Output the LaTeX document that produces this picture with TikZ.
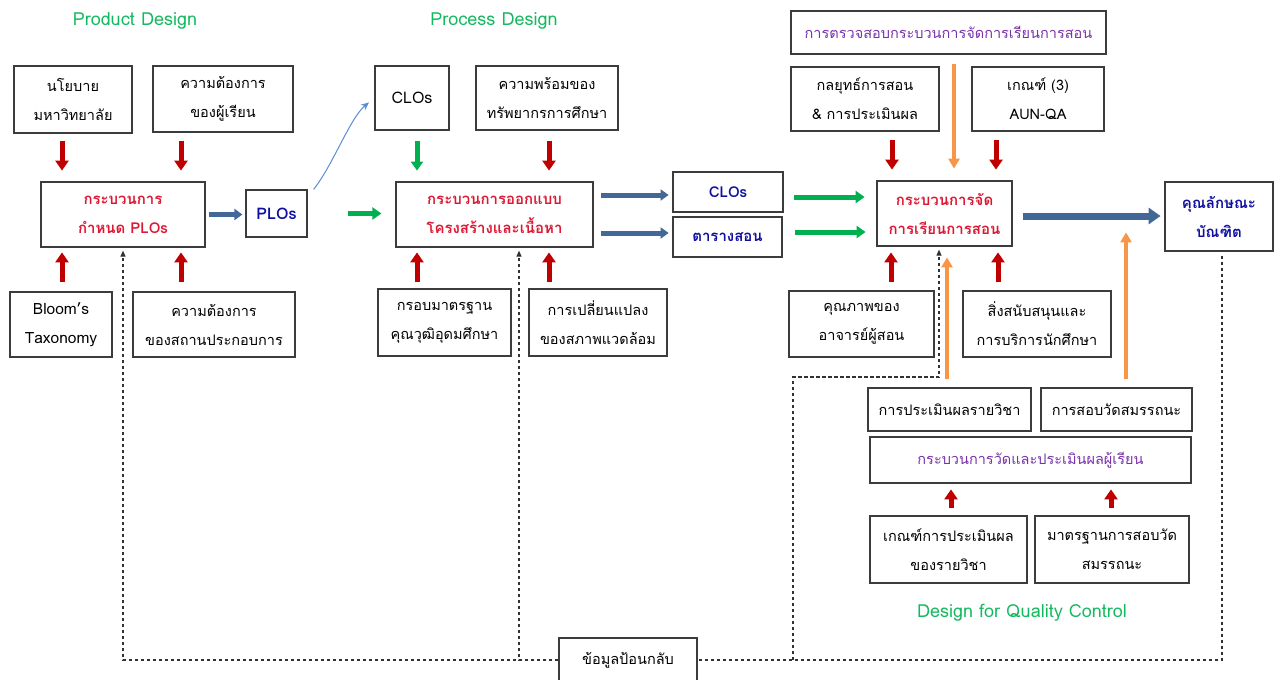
\documentclass[tikz,border=0pt]{standalone}
\usepackage{fontspec}
\setmainfont{Loma}[Script=Thai]
\usetikzlibrary{arrows.meta,calc}
\definecolor{boxgray}{RGB}{60,60,60}
\definecolor{hgreen}{RGB}{20,185,95}
\definecolor{txtred}{RGB}{222,24,52}
\definecolor{navy}{RGB}{16,16,160}
\definecolor{purp}{RGB}{120,50,170}
\definecolor{arred}{RGB}{192,0,0}
\definecolor{arblue}{RGB}{66,104,152}
\definecolor{argreen}{RGB}{0,176,80}
\definecolor{arorange}{RGB}{247,150,70}
\definecolor{thinblue}{RGB}{90,140,210}
\definecolor{dashgray}{RGB}{50,50,50}
\begin{document}
\begin{tikzpicture}[x=1pt,y=-1pt,
  bx/.style 2 args={draw=boxgray, line width=1.2pt, inner sep=0pt, align=center,
    minimum width=#1pt, minimum height=#2pt, font=\fontsize{14.5}{29}\selectfont},
  redt/.style={text=txtred, font=\fontsize{15}{29}\selectfont\bfseries},
  navyt/.style={text=navy, font=\fontsize{15}{29}\selectfont\bfseries},
  purpt/.style={text=purp},
  latt/.style={font=\fontsize{15.5}{29}\selectfont},
  hd/.style={text=hgreen, font=\fontsize{18}{20}\selectfont},
  ra/.style={draw=arred, line width=5pt, -{Triangle[length=10pt,width=13pt]}},
  ga/.style={draw=argreen, line width=5pt, -{Triangle[length=9pt,width=12pt]}},
  ba/.style={draw=arblue, line width=5pt, -{Triangle[length=8pt,width=11pt]}},
  bigba/.style={draw=arblue, line width=7pt, -{Triangle[length=12pt,width=16pt]}},
  oa/.style={draw=arorange, line width=4pt, -{Triangle[length=10pt,width=11pt]}},
  fbline/.style={draw=dashgray, line width=1.1pt, dash pattern=on 3.5pt off 2.5pt},
  fbarrow/.style={fbline, -{Triangle[length=6pt,width=5pt]}, shorten >=3pt},
]
\useasboundingbox (0,0) rectangle (1280,680);

% headings
\node[hd] (h1) at (135,21) {Product Design};
\node[hd] (h2) at (494,21) {Process Design};
\node[hd] (h3) at (1022,613) {Design for Quality Control};

% product design
\node[bx={118}{67}] (nyb) at (73,99.5) {นโยบาย\\มหาวิทยาลัย};
\node[bx={140}{66}] (need) at (223,99) {ความต้องการ\\ของผู้เรียน};
\node[bx={164}{65}, redt] (plop) at (123,214.5) {กระบวนการ\\กำหนด PLOs};
\node[bx={61}{47}, navyt, font=\fontsize{16}{20}\selectfont\bfseries] (plos) at (276.5,213.5) {PLOs};
\node[bx={102}{65}, latt] (bloom) at (61,324.5) {Bloom’s\\Taxonomy};
\node[bx={162}{65}] (ent) at (214,324.5) {ความต้องการ\\ของสถานประกอบการ};

% process design
\node[bx={74}{64}, font=\fontsize{16}{20}\selectfont] (clos1) at (412,98) {CLOs};
\node[bx={142}{64}] (res) at (547,98) {ความพร้อมของ\\ทรัพยากรการศึกษา};
\node[bx={197}{65}, redt] (des) at (494.5,214.5) {กระบวนการออกแบบ\\โครงสร้างและเนื้อหา};
\node[bx={133}{67}] (tqf) at (444.5,322.5) {กรอบมาตรฐาน\\คุณวุฒิอุดมศึกษา};
\node[bx={138}{67}] (env) at (598,322.5) {การเปลี่ยนแปลง\\ของสภาพแวดล้อม};
\node[bx={110}{40}, navyt, font=\fontsize{15}{20}\selectfont\bfseries] (clos2) at (728,192) {CLOs};
\node[bx={109}{40}, navyt] (tt) at (727.5,237) {ตารางสอน};

% teaching and quality
\node[bx={315}{43}, purpt] (audit) at (948.5,32.5) {การตรวจสอบกระบวนการจัดการเรียนการสอน};
\node[bx={148}{64}] (strat) at (865,99) {กลยุทธ์การสอน\\\& การประเมินผล};
\node[bx={132}{64}] (aun) at (1038,99) {เกณฑ์ (3)\\AUN-QA};
\node[bx={135}{65}, redt] (proc) at (944.5,213.5) {กระบวนการจัด\\การเรียนการสอน};
\node[bx={108}{69}, navyt] (grad) at (1219,216.5) {คุณลักษณะ\\บัณฑิต};
\node[bx={145}{66}] (qual) at (861.5,324) {คุณภาพของ\\อาจารย์ผู้สอน};
\node[bx={148}{66}] (supp) at (1037,324) {สิ่งสนับสนุนและ\\การบริการนักศึกษา};
\node[bx={163}{43}] (cev) at (949.5,409.5) {การประเมินผลรายวิชา};
\node[bx={151}{43}] (comp) at (1116.5,409.5) {การสอบวัดสมรรถนะ};
\node[bx={321}{46}, purpt] (meas) at (1030.5,460) {กระบวนการวัดและประเมินผลผู้เรียน};
\node[bx={157}{67}] (crit) at (948.5,549.5) {เกณฑ์การประเมินผล\\ของรายวิชา};
\node[bx={154}{67}] (std) at (1112,549.5) {มาตรฐานการสอบวัด\\สมรรถนะ};
\node[bx={138}{44}] (fb) at (628,660) {ข้อมูลป้อนกลับ};

% feedback dashed lines
\coordinate (qc) at (793,377);
\draw[fbline] ([xshift=3pt,yshift=-4pt]grad.south) |- (fb.east);
\draw[fbarrow] (fb.west) -| (plop.south);
\draw[fbarrow] (fb.west) -| ([xshift=24.5pt]des.south);
\draw[fbarrow] (fb.east -| qc) -- (qc) -| ([xshift=-5.5pt]proc.south);

% arrows down
\draw[ra] ([xshift=-11pt,yshift=-7pt]nyb.south) -- ++(0,30);
\draw[ra] ([xshift=-42pt,yshift=-8pt]need.south) -- ++(0,30);
\draw[ga] ([xshift=5pt,yshift=-10pt]clos1.south) -- ++(0,30);
\draw[ra] ([xshift=2pt,yshift=-10pt]res.south) -- ++(0,30);
\draw[ra] ([xshift=27pt,yshift=-8pt]strat.south) -- ++(0,30);
\draw[ra] ([xshift=-42pt,yshift=-8pt]aun.south) -- ++(0,30);
\draw[oa] ([xshift=5.5pt,yshift=-9pt]audit.south) -- ++(0,105);

% arrows up
\draw[ra] ([xshift=1pt,yshift=9pt]bloom.north) -- ++(0,-30);
\draw[ra] ([xshift=-33pt,yshift=9pt]ent.north) -- ++(0,-30);
\draw[ra] ([xshift=-27.5pt,yshift=6pt]tqf.north) -- ++(0,-30);
\draw[ra] ([xshift=-49pt,yshift=6pt]env.north) -- ++(0,-30);
\draw[ra] ([xshift=29.5pt,yshift=8pt]qual.north) -- ++(0,-30);
\draw[ra] ([xshift=-39pt,yshift=8pt]supp.north) -- ++(0,-30);
\draw[ra] ([xshift=2.5pt,yshift=7pt]crit.north) -- ++(0,-19);
\draw[ra] ([xshift=-1pt,yshift=7pt]std.north) -- ++(0,-19);
\draw[oa] ([xshift=-2.5pt,yshift=8pt]cev.north) -- ++(0,-122);
\draw[oa] ([xshift=9.5pt,yshift=8pt]comp.north) -- ++(0,-147);

% horizontal arrows
\draw[ba, shorten <=3pt, shorten >=3pt] (plop.east) -- (plop.east -| plos.west);
\draw[ga, shorten <=40pt, shorten >=14pt] (plos.east) -- (plos.east -| des.west);
\draw[ba] ([xshift=7pt,yshift=19.5pt]des.east) -- ++(68,0);
\draw[ba] ([xshift=7pt,yshift=-18.5pt]des.east) -- ++(68,0);
\draw[ga] ([xshift=10pt,yshift=-5pt]clos2.east) -- ++(71,0);
\draw[ga] ([xshift=12pt,yshift=5pt]tt.east) -- ++(71,0);
\draw[bigba] ([xshift=10pt,yshift=-2.5pt]proc.east) -- ++(138,0);

% curved thin arrow PLOs -> CLOs
\draw[draw=thinblue, line width=1pt, -{Stealth[length=8pt,width=7pt]}, shorten >=7pt]
  ([xshift=6pt]plos.north east) .. controls (333,165) and (350,118) .. (clos1.west);
\end{tikzpicture}
\end{document}
